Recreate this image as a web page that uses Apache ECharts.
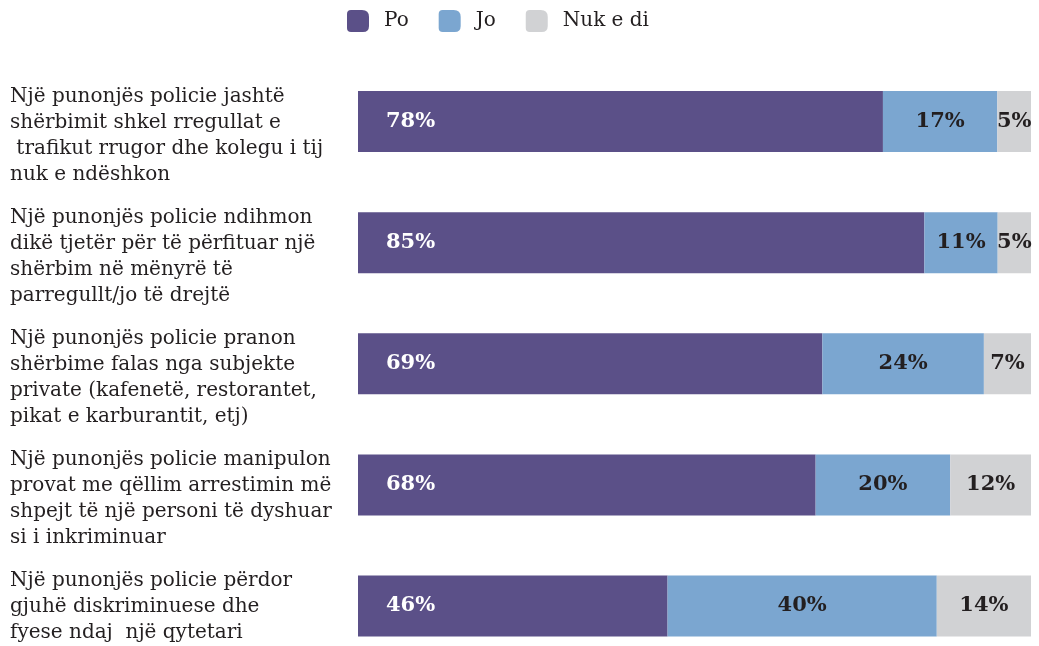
<!DOCTYPE html>
<html>
<head>
<meta charset="utf-8">
<script src="https://cdn.jsdelivr.net/npm/echarts@6/dist/echarts.min.js"></script>
<style>
  html, body { margin: 0; padding: 0; background: #ffffff; }
  #chart { width: 1039px; height: 646px; }
</style>
</head>
<body>
<div id="chart"></div>
<script>
// Survey statements (category axis, top to bottom)
const categories = [
  "Një punonjës policie jashtë\nshërbimit shkel rregullat e\n trafikut rrugor dhe kolegu i tij\nnuk e ndëshkon",
  "Një punonjës policie ndihmon\ndikë tjetër për të përfituar një\nshërbim në mënyrë të\nparregullt/jo të drejtë",
  "Një punonjës policie pranon\nshërbime falas nga subjekte\nprivate (kafenetë, restorantet,\npikat e karburantit, etj)",
  "Një punonjës policie manipulon\nprovat me qëllim arrestimin më\nshpejt të një personi të dyshuar\nsi i inkriminuar",
  "Një punonjës policie përdor\ngjuhë diskriminuese dhe\nfyese ndaj  një qytetari"
];

const seriesNames = ["Po", "Jo", "Nuk e di"];

// Answer shares in percent, per statement
const po     = [78, 85, 69, 68, 46];
const jo     = [17, 11, 24, 20, 40];
const nukEDi = [5, 5, 7, 12, 14];

const colors = ["#5b5088", "#7ba6d0", "#d1d2d4"];

// Each row is drawn as a share of its own total so bars fill the full width
const totals = po.map((v, i) => v + jo[i] + nukEDi[i]);
const toData = arr => arr.map((v, i) => ({ value: v / totals[i] * 100, raw: v }));

const labelFont = {
  fontFamily: "DejaVu Serif",
  fontWeight: "bold",
  fontSize: 21
};

const chart = echarts.init(document.getElementById("chart"), null, { renderer: "canvas" });

const rawSets = [po, jo, nukEDi];
const series = rawSets.map((arr, k) => ({
  name: seriesNames[k],
  type: "bar",
  stack: "total",
  barWidth: 61,
  clip: false,
  data: toData(arr),
  itemStyle: { color: colors[k] },
  label: Object.assign({
    show: true,
    position: k === 0 ? "insideLeft" : "inside",
    distance: 28,
    color: k === 0 ? "#ffffff" : "#231f20",
    formatter: p => p.data.raw + "%"
  }, labelFont),
  emphasis: { disabled: true }
}));

chart.setOption({
  animation: false,
  legend: {
    top: 5,
    left: 342,
    itemWidth: 22,
    itemHeight: 22,
    itemGap: 30,
    icon: "path://M4,0 L15,0 Q22,0 22,7 L22,16 Q22,22 16,22 L4,22 Q0,22 0,18 L0,4 Q0,0 4,0 Z",
    textStyle: {
      fontFamily: "DejaVu Serif",
      fontSize: 20,
      color: "#231f20",
      padding: [0, 0, 0, 10]
    },
    data: seriesNames
  },
  // Category centres sit on the grid edges (boundaryGap off), 121.5px apart
  grid: {
    left: 358,
    right: 8,
    top: 121.5,
    bottom: 38.5,
    containLabel: false
  },
  xAxis: {
    type: "value",
    min: 0,
    max: 100,
    show: false
  },
  yAxis: {
    type: "category",
    inverse: true,
    boundaryGap: false,
    data: categories,
    axisLine: { show: false },
    axisTick: { show: false },
    splitLine: { show: false },
    axisLabel: {
      align: "left",
      margin: 348,
      verticalAlign: "top",
      padding: [-38, 0, 0, 0],
      lineHeight: 26,
      fontFamily: "DejaVu Serif",
      fontSize: 20,
      color: "#231f20"
    }
  },
  series: series
});
</script>
</body>
</html>
